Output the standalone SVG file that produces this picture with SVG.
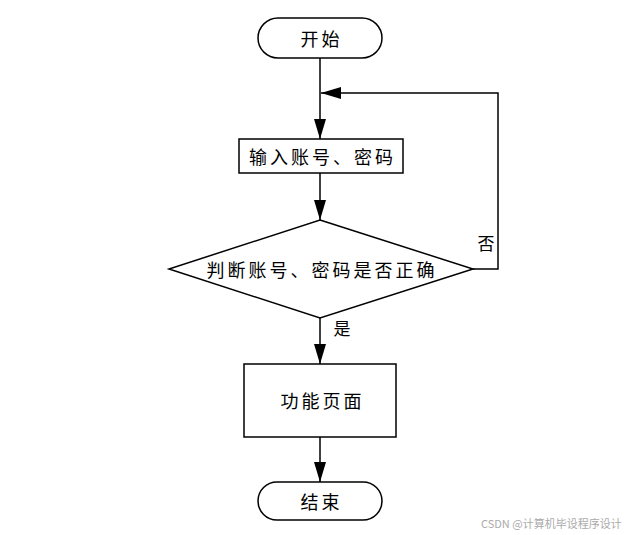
<svg xmlns="http://www.w3.org/2000/svg" width="635" height="535" viewBox="0 0 635 535">
<defs>
<marker id="ahb" markerWidth="20" markerHeight="12" refX="20" refY="6" orient="auto" markerUnits="userSpaceOnUse" viewBox="0 0 20 12">
<path d="M0,0 L20,6 L0,12 z" fill="#000"/>
</marker>
</defs>
<style>
.shape{fill:#fff;stroke:#000;stroke-width:1.5}
.t{font-family:"Noto Sans CJK SC","Noto Sans",sans-serif;font-size:18px;letter-spacing:3px;fill:#000;text-anchor:middle;dominant-baseline:central}
.l{font-family:"Noto Sans CJK SC","Noto Sans",sans-serif;font-size:17px;fill:#000;text-anchor:middle;dominant-baseline:central}
.c{fill:none;stroke:#000;stroke-width:1.5}
.wm{font-family:"Noto Sans CJK SC","Liberation Sans",sans-serif;font-size:11px;fill:#aaa}
</style>
<rect width="635" height="535" fill="#fff"/>
<g id="connectors">
<line class="c" x1="320" y1="58" x2="320" y2="139" marker-end="url(#ahb)"/>
<line class="c" x1="320" y1="173" x2="320" y2="220" marker-end="url(#ahb)"/>
<line class="c" x1="320" y1="318" x2="320" y2="364" marker-end="url(#ahb)"/>
<line class="c" x1="320" y1="437" x2="320" y2="482" marker-end="url(#ahb)"/>
<polyline class="c" points="473,269 498,269 498,93 321,93" marker-end="url(#ahb)"/>
<text class="l" x="486" y="242">否</text>
<text class="l" x="342" y="327">是</text>
</g>
<g id="start">
<rect class="shape" x="258" y="18" width="124" height="40" rx="20" ry="20"/>
<text class="t" x="321.5" y="38">开始</text>
</g>
<g id="input">
<rect class="shape" x="239" y="139" width="164" height="34"/>
<text class="t" x="322.5" y="156">输入账号、密码</text>
</g>
<g id="check">
<polygon class="shape" points="320,220 473,269 320,318 169,269"/>
<text class="t" x="322" y="269">判断账号、密码是否正确</text>
</g>
<g id="func">
<rect class="shape" x="244" y="364" width="152" height="73"/>
<text class="t" x="322.5" y="400">功能页面</text>
</g>
<g id="end">
<rect class="shape" x="258" y="482" width="124" height="38" rx="19" ry="19"/>
<text class="t" x="321.5" y="501">结束</text>
</g>
<text class="wm" x="481" y="528">CSDN @计算机毕设程序设计</text>
</svg>
